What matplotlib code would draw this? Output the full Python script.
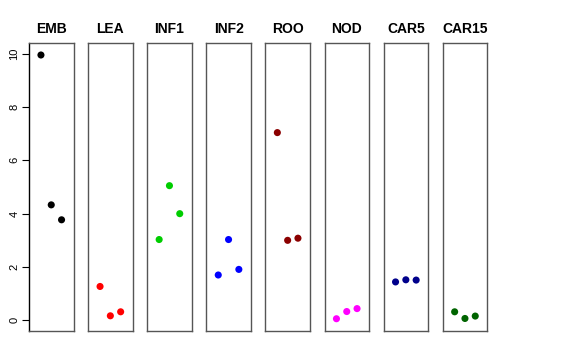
import matplotlib.pyplot as plt
import numpy as np

plt.rcParams['font.family'] = ['Liberation Sans', 'DejaVu Sans']

# Panels, colours and the three values in each
tissues = ['EMB', 'LEA', 'INF1', 'INF2', 'ROO', 'NOD', 'CAR5', 'CAR15']
colors = ['black', 'red', '#00CD00', 'blue', '#8B0000', 'magenta', '#00008B', '#006400']
values = [
    [9.95, 4.33, 3.77],
    [1.27, 0.17, 0.32],
    [3.03, 5.05, 4.00],
    [1.70, 3.03, 1.91],
    [7.04, 3.00, 3.08],
    [0.06, 0.33, 0.44],
    [1.44, 1.52, 1.51],
    [0.32, 0.07, 0.16],
]
yticks = [0, 2, 4, 6, 8, 10]

fig = plt.figure(figsize=(5.76, 3.6), dpi=100)
W, H = 576, 360
left0, step, pw = 29, 59.1, 44.5
top, bottom = 43, 331

for i, (name, col, vals) in enumerate(zip(tissues, colors, values)):
    x0 = left0 + i * step
    ax = fig.add_axes([x0 / W, 1 - bottom / H, pw / W, (bottom - top) / H])
    ax.scatter([1, 2, 3], vals, s=26, color=col, edgecolors='none', zorder=3)
    ax.set_xlim(-0.16, 4.16)
    ax.set_ylim(-0.4, 10.4)
    ax.set_xticks([])
    for s in ax.spines.values():
        s.set_color('#555555')
        s.set_linewidth(1.0)
    ax.set_title(name, fontsize=10, fontweight='bold', pad=7)
    if i == 0:
        ax.spines['left'].set_color('black')
        ax.set_yticks(yticks)
        ax.set_yticklabels([str(t) for t in yticks], rotation=90, va='center', fontsize=8)
        ax.tick_params(axis='y', length=5, width=0.8, pad=2)
    else:
        ax.set_yticks([])

fig.savefig('out.png', dpi=100)
